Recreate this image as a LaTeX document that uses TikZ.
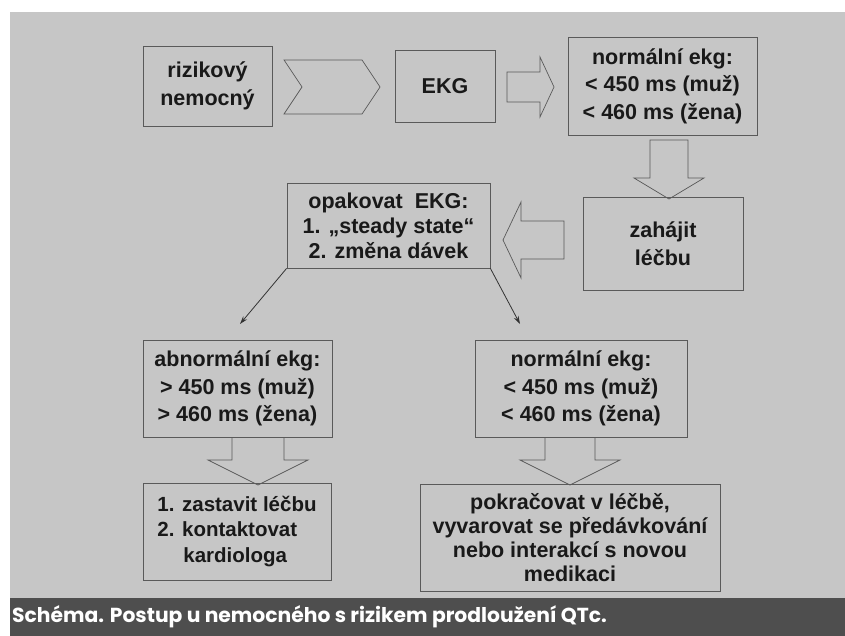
\documentclass[tikz,border=0pt]{standalone}
\usepackage{fontspec}
\setmainfont{Liberation Sans}
\newfontfamily\capfont{Poppins}
\usetikzlibrary{arrows.meta}
\definecolor{bgc}{RGB}{198,198,198}
\definecolor{capc}{RGB}{78,78,78}
\definecolor{edge}{RGB}{90,90,90}
\definecolor{txt}{RGB}{25,25,25}
\begin{document}
\begin{tikzpicture}[x=1pt,y=-1pt,
  box/.style={draw=edge,line width=0.8pt,inner sep=0pt,align=center,text=txt,
    font=\bfseries\fontsize{21.5}{27.5}\selectfont},
  blockarrow/.style={draw=edge,line width=0.7pt,line join=miter},
  conn/.style={draw=black!80,line width=0.8pt,-{Stealth[length=8pt,width=5pt]}}]
\useasboundingbox (0,0) rectangle (845,636);
\fill[white] (0,0) rectangle (845,636);
\fill[bgc] (10,12) rectangle (845,598);
\fill[capc] (10,598) rectangle (845,636);

% boxes
\node[box,minimum width=129pt,minimum height=80pt] (riz) at (207.5,86) {rizikový\\nemocný};
\node[box,minimum width=100pt,minimum height=72pt] (ekg) at (445,86) {EKG};
\node[box,minimum width=189pt,minimum height=98pt] (norm1) at (662.5,86) {normální ekg:\\< 450 ms (muž)\\< 460 ms (žena)};
\node[box,minimum width=160pt,minimum height=93pt] (zah) at (663,243.5) {zahájit\\léčbu};
\node[box,minimum width=203pt,minimum height=85pt,font=\bfseries\fontsize{21.5}{25}\selectfont] (opak) at (388.5,225.5) {opakovat\ \ EKG:\\1. „steady state“\\2. změna dávek};
\node[box,minimum width=189pt,minimum height=97pt] (abn) at (237.5,388.5) {abnormální ekg:\\> 450 ms (muž)\\> 460 ms (žena)};
\node[box,minimum width=212pt,minimum height=97pt] (norm2) at (581,388.5) {normální ekg:\\< 450 ms (muž)\\< 460 ms (žena)};
\node[box,minimum width=188pt,minimum height=97pt,align=left,font=\bfseries\fontsize{20.5}{25.5}\selectfont] (stop) at (237,531.5) {1. zastavit léčbu\\2. kontaktovat\\\hspace*{26pt}kardiologa};
\node[box,minimum width=300pt,minimum height=107pt,font=\bfseries\fontsize{21.5}{24}\selectfont] (cont) at (570,538) {pokračovat v léčbě,\\vyvarovat se předávkování\\nebo interakcí s novou\\medikaci};

% block arrows (shapes)
\draw[blockarrow] (284,60) -- (362,60) -- (380,87) -- (362,114) -- (284,114) -- (302,87) -- cycle;
\draw[blockarrow] (507,72) -- (540,72) -- (540,57) -- (554,87) -- (540,117) -- (540,102) -- (507,102) -- cycle;
\draw[blockarrow] (650,140) -- (688,140) -- (688,178) -- (704,178) -- (669,199) -- (634,178) -- (650,178) -- cycle;
\draw[blockarrow] (564,221) -- (521,221) -- (521,202) -- (503,240) -- (521,278) -- (521,259) -- (564,259) -- cycle;
\draw[blockarrow] (232,437) -- (232,460) -- (208,460) -- (258,485) -- (308,460) -- (284,460) -- (284,437);
\draw[blockarrow] (545,437) -- (545,460) -- (520,460) -- (570,485) -- (620,460) -- (595,460) -- (595,437);

% thin connectors
\coordinate (endL) at (240,324);
\coordinate (endR) at (520,324);
\draw[conn] (opak.south west) -- (endL);
\draw[conn] (opak.south east) -- (endR);

% caption
\node[anchor=west,inner sep=0pt,text=white,font=\capfont\bfseries\fontsize{20.3}{20.3}\selectfont] (cap) at (12,617) {Schéma. Postup u nemocného s rizikem prodloužení QTc.};
\end{tikzpicture}
\end{document}
